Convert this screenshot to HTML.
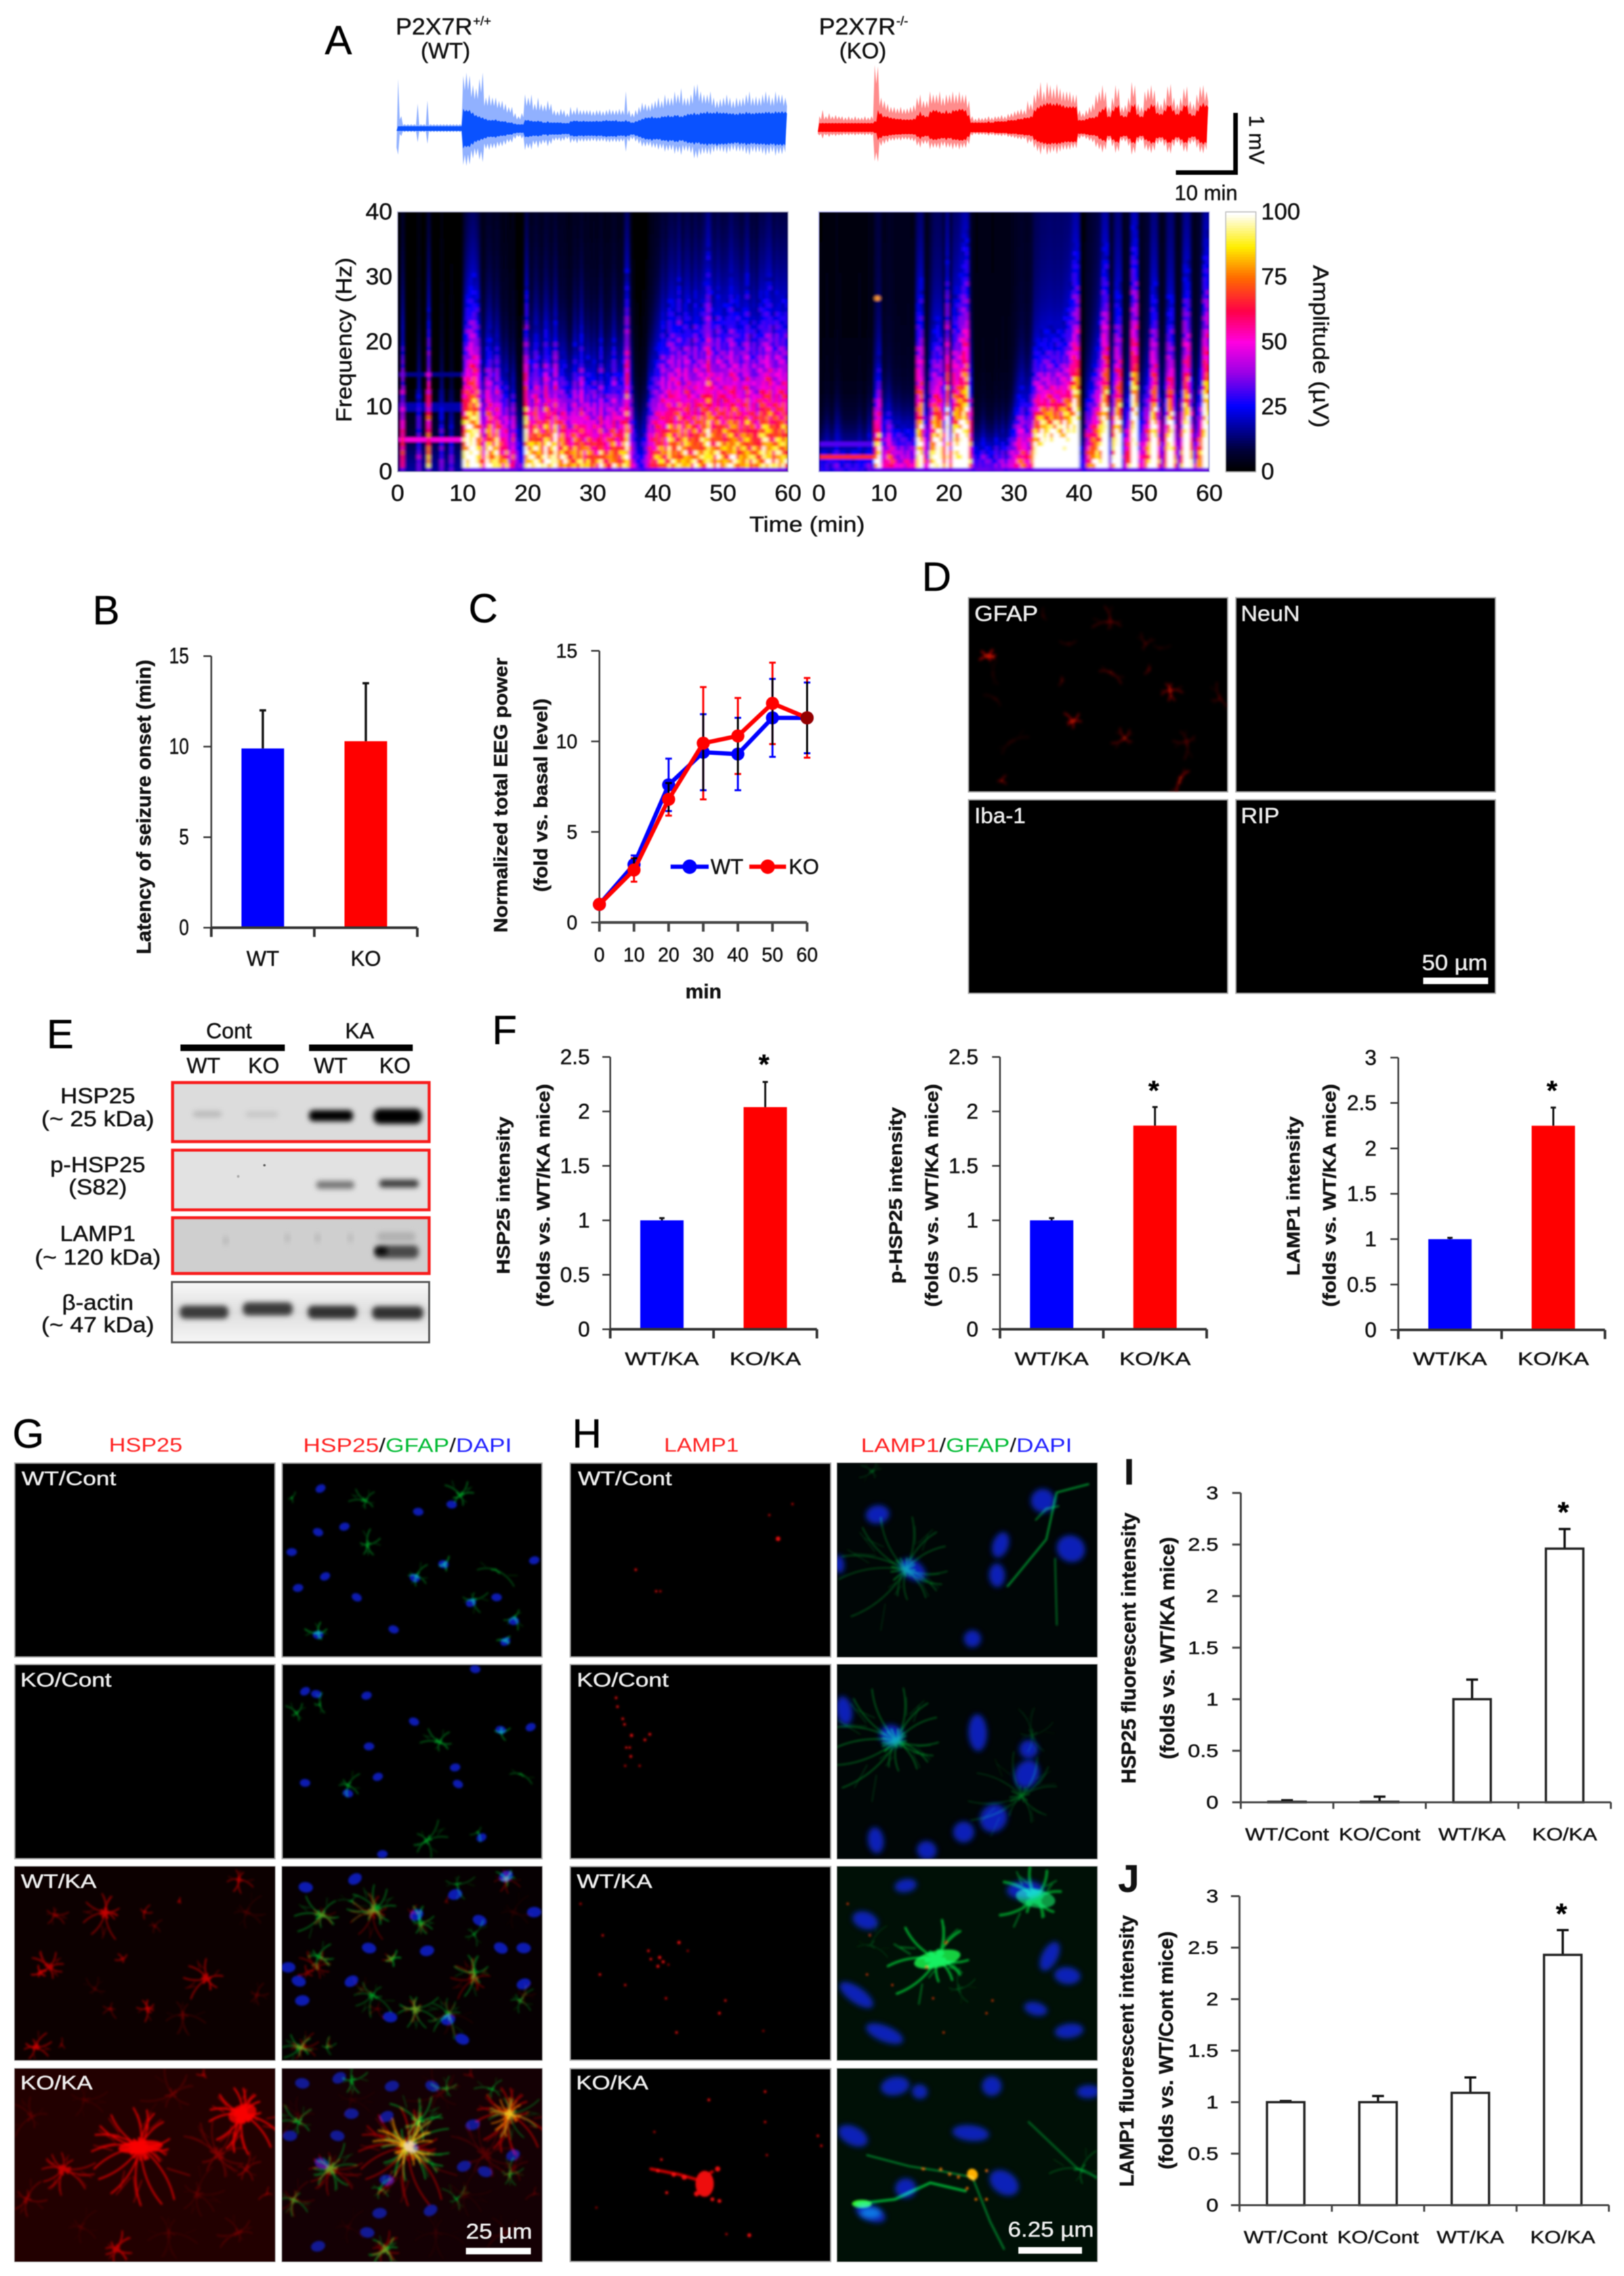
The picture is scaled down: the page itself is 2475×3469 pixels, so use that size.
<!DOCTYPE html>
<html lang="en">
<head>
<meta charset="utf-8">
<title>P2X7R multi-panel figure</title>
<style>
html,body{margin:0;padding:0;background:#fff;width:2475px;height:3469px;overflow:hidden}
svg{display:block;filter:blur(.8px)}
text{font-family:"Liberation Sans",sans-serif;dominant-baseline:central;fill:#111;stroke:#111;stroke-width:.5px}
.m{text-anchor:middle}.e{text-anchor:end}.s{text-anchor:start}
.b{font-weight:700}
.pl{font-size:62px;fill:#000}
.w{fill:#eee;stroke:#eee}
.c{stroke:none}
</style>
</head>
<body>
<svg id="fig" xmlns="http://www.w3.org/2000/svg" width="2475" height="3469" viewBox="0 0 2475 3469">
<defs>
<filter id="soft" x="-5%" y="-5%" width="110%" height="110%"><feGaussianBlur stdDeviation="1.5"/></filter>
<filter id="softD" x="-5%" y="-5%" width="110%" height="110%"><feGaussianBlur stdDeviation="2.4"/></filter>
<filter id="nuc" x="-40%" y="-40%" width="180%" height="180%"><feGaussianBlur stdDeviation="4"/></filter>
<filter id="spec" x="-2%" y="-2%" width="104%" height="104%"><feGaussianBlur stdDeviation="2.4 1.6"/></filter>
<filter id="blot" x="-30%" y="-120%" width="160%" height="340%"><feGaussianBlur stdDeviation="4"/></filter>
<clipPath id="clipWT"><rect x="606" y="323" width="595" height="396"/></clipPath>
<clipPath id="clipKO"><rect x="1248" y="323" width="595" height="396"/></clipPath>
<linearGradient id="actinBg" x1="0" y1="0" x2="0" y2="1"><stop offset="0" stop-color="#f8f8f8"/><stop offset=".5" stop-color="#dedede"/><stop offset="1" stop-color="#f6f6f6"/></linearGradient>
</defs>
<rect width="2475" height="3469" fill="#fff"/>

<!-- PANEL A -->
<g id="panelA">
<text class="pl" x="495" y="62">A</text>
<text x="603" y="41" font-size="35" textLength="117" lengthAdjust="spacingAndGlyphs">P2X7R</text>
<text x="721" y="33" font-size="19">+/+</text>
<text class="m" x="679" y="78" font-size="34">(WT)</text>
<text x="1248" y="41" font-size="35" textLength="117" lengthAdjust="spacingAndGlyphs">P2X7R</text>
<text x="1366" y="33" font-size="19">-/-</text>
<text class="m" x="1315" y="78" font-size="34">(KO)</text>
<g id="traceWT"></g>
<g id="traceKO"></g>
<path d="M1792 263H1883V172" fill="none" stroke="#000" stroke-width="7"/>
<text class="m" x="1915" y="213" font-size="32" transform="rotate(90 1915 213)">1 mV</text>
<text class="m" x="1838" y="294" font-size="32">10 min</text>
<g id="specFrame">
<rect x="606" y="323" width="595" height="396" fill="#000"/>
<rect x="1248" y="323" width="595" height="396" fill="#000"/>
</g>
<g clip-path="url(#clipWT)"><g id="specWT" filter="url(#spec)"></g></g>
<g clip-path="url(#clipKO)"><g id="specKO" filter="url(#spec)"></g></g>
<rect x="606" y="323" width="595" height="396" fill="none" stroke="#a8a8c8" stroke-width="1.5"/>
<rect x="1248" y="323" width="595" height="396" fill="none" stroke="#b0b0f0" stroke-width="1.5"/>
<g id="colorbar"></g>
<g id="specTicks"></g>
<text class="m" x="524" y="518" font-size="33" textLength="251" lengthAdjust="spacingAndGlyphs" transform="rotate(-90 524 518)">Frequency (Hz)</text>
<text class="m" x="1230" y="799" font-size="33" textLength="176" lengthAdjust="spacingAndGlyphs">Time (min)</text>
<text class="m" x="2013" y="528" font-size="33" textLength="248" lengthAdjust="spacingAndGlyphs" transform="rotate(90 2013 528)">Amplitude (µV)</text>
</g>

<!-- PANEL B -->
<g id="panelB">
<text class="pl" x="141" y="931">B</text>
<text class="m b" x="219" y="1230" font-size="31" textLength="449" lengthAdjust="spacingAndGlyphs" transform="rotate(-90 219 1230)">Latency of seizure onset (min)</text>
</g>

<!-- PANEL C -->
<g id="panelC">
<text class="pl" x="714" y="928">C</text>
<text class="m b" x="764" y="1212" font-size="29" textLength="419" lengthAdjust="spacingAndGlyphs" transform="rotate(-90 764 1212)">Normalized total EEG power</text>
<text class="m b" x="825" y="1212" font-size="29" textLength="295" lengthAdjust="spacingAndGlyphs" transform="rotate(-90 825 1212)">(fold vs. basal level)</text>
<text class="m b" x="1072" y="1511" font-size="31">min</text>
</g>

<!-- PANEL D -->
<g id="panelD">
<text class="pl" x="1405" y="880">D</text>
</g>

<!-- PANEL E -->
<g id="panelE">
<text class="pl" x="71" y="1577">E</text>
<rect x="275" y="1592" width="159" height="10" fill="#000"/>
<rect x="471" y="1592" width="158" height="10" fill="#000"/>
<text class="m" x="349" y="1571" font-size="33">Cont</text>
<text class="m" x="548" y="1571" font-size="33">KA</text>
<text class="m" x="310" y="1624" font-size="33">WT</text>
<text class="m" x="402" y="1624" font-size="33">KO</text>
<text class="m" x="504" y="1624" font-size="33">WT</text>
<text class="m" x="602" y="1624" font-size="33">KO</text>
<rect x="263" y="1650" width="391" height="90" fill="#dcdcdc" stroke="#f81c1c" stroke-width="4.5"/>
<rect x="263" y="1753" width="391" height="91" fill="#e2e2e2" stroke="#f81c1c" stroke-width="4.5"/>
<rect x="263" y="1856" width="391" height="85" fill="#cfcfcf" stroke="#f81c1c" stroke-width="4.5"/>
<rect x="262" y="1954" width="392" height="92" fill="url(#actinBg)" stroke="#555" stroke-width="3"/>
<rect x="294" y="1693" width="44" height="10" rx="5" fill="#bbb" filter="url(#blot)"/>
<rect x="374" y="1694" width="50" height="9" rx="5" fill="#c6c6c6" filter="url(#blot)"/>
<rect x="471" y="1692" width="67" height="17" rx="7" fill="#000" filter="url(#blot)"/>
<rect x="569" y="1690" width="74" height="23" rx="10" fill="#000" filter="url(#blot)"/>
<rect x="482" y="1800" width="58" height="12" rx="5" fill="#777" filter="url(#blot)"/>
<rect x="578" y="1798" width="60" height="12" rx="5" fill="#3c3c3c" filter="url(#blot)"/>
<rect x="571" y="1898" width="67" height="20" rx="8" fill="#4a4a4a" filter="url(#blot)"/>
<rect x="572" y="1902" width="18" height="10" rx="4" fill="#000" filter="url(#blot)"/>
<rect x="575" y="1878" width="58" height="14" rx="6" fill="#b0b0b0" filter="url(#blot)"/>
<rect x="340" y="1884" width="8" height="14" rx="4" fill="#b8b8b8" filter="url(#blot)"/>
<rect x="434" y="1880" width="8" height="14" rx="4" fill="#bababa" filter="url(#blot)"/>
<rect x="480" y="1880" width="8" height="14" rx="4" fill="#b8b8b8" filter="url(#blot)"/>
<rect x="530" y="1880" width="8" height="14" rx="4" fill="#bababa" filter="url(#blot)"/>
<rect x="274" y="1990" width="74" height="20" rx="8" fill="#3a3a3a" filter="url(#blot)"/>
<rect x="370" y="1985" width="76" height="20" rx="8" fill="#3a3a3a" filter="url(#blot)"/>
<rect x="469" y="1990" width="75" height="20" rx="8" fill="#333" filter="url(#blot)"/>
<rect x="567" y="1991" width="78" height="20" rx="8" fill="#333" filter="url(#blot)"/>
<circle cx="403" cy="1776" r="1.8" fill="#555"/>
<circle cx="363" cy="1793" r="2" fill="#aaa"/>
<text class="m" x="149" y="1670" font-size="33" textLength="114" lengthAdjust="spacingAndGlyphs">HSP25</text>
<text class="m" x="149" y="1705" font-size="33" textLength="172" lengthAdjust="spacingAndGlyphs">(~ 25 kDa)</text>
<text class="m" x="149" y="1775" font-size="33" textLength="145" lengthAdjust="spacingAndGlyphs">p-HSP25</text>
<text class="m" x="149" y="1809" font-size="33" textLength="89" lengthAdjust="spacingAndGlyphs">(S82)</text>
<text class="m" x="149" y="1880" font-size="33" textLength="115" lengthAdjust="spacingAndGlyphs">LAMP1</text>
<text class="m" x="149" y="1916" font-size="33" textLength="192" lengthAdjust="spacingAndGlyphs">(~ 120 kDa)</text>
<text class="m" x="149" y="1985" font-size="33" textLength="109" lengthAdjust="spacingAndGlyphs">β-actin</text>
<text class="m" x="149" y="2019" font-size="33" textLength="172" lengthAdjust="spacingAndGlyphs">(~ 47 kDa)</text>
</g>

<!-- PANEL F -->
<g id="panelF">
<text class="pl" x="750" y="1571">F</text>
<text class="m b" x="767" y="1822" font-size="28" textLength="240" lengthAdjust="spacingAndGlyphs" transform="rotate(-90 767 1822)">HSP25 intensity</text>
<text class="m b" x="828" y="1822" font-size="28" textLength="340" lengthAdjust="spacingAndGlyphs" transform="rotate(-90 828 1822)">(folds vs. WT/KA mice)</text>
<text class="m b" x="1365" y="1822" font-size="28" textLength="269" lengthAdjust="spacingAndGlyphs" transform="rotate(-90 1365 1822)">p-HSP25 intensity</text>
<text class="m b" x="1420" y="1822" font-size="28" textLength="340" lengthAdjust="spacingAndGlyphs" transform="rotate(-90 1420 1822)">(folds vs. WT/KA mice)</text>
<text class="m b" x="1971" y="1823" font-size="28" textLength="243" lengthAdjust="spacingAndGlyphs" transform="rotate(-90 1971 1823)">LAMP1 intensity</text>
<text class="m b" x="2026" y="1822" font-size="28" textLength="340" lengthAdjust="spacingAndGlyphs" transform="rotate(-90 2026 1822)">(folds vs. WT/KA mice)</text>
</g>

<!-- PANELS G H D images -->
<g id="micrographs"></g>

<g id="panelGH">
<text class="pl" x="19" y="2186">G</text>
<text class="pl" x="872" y="2186">H</text>
<text class="m c" x="222" y="2203" font-size="30" textLength="112" lengthAdjust="spacingAndGlyphs" style="fill:#f22">HSP25</text>
<text class="c" x="462" y="2203" font-size="30" textLength="318" lengthAdjust="spacingAndGlyphs"><tspan style="fill:#f22">HSP25</tspan><tspan>/</tspan><tspan style="fill:#0b3">GFAP</tspan><tspan>/</tspan><tspan style="fill:#22f">DAPI</tspan></text>
<text class="m c" x="1069" y="2203" font-size="30" textLength="114" lengthAdjust="spacingAndGlyphs" style="fill:#f22">LAMP1</text>
<text class="c" x="1312" y="2203" font-size="30" textLength="322" lengthAdjust="spacingAndGlyphs"><tspan style="fill:#f22">LAMP1</tspan><tspan>/</tspan><tspan style="fill:#0b3">GFAP</tspan><tspan>/</tspan><tspan style="fill:#22f">DAPI</tspan></text>
<text class="w" x="33" y="2254" font-size="30" textLength="144" lengthAdjust="spacingAndGlyphs">WT/Cont</text>
<text class="w" x="31" y="2561" font-size="30" textLength="139" lengthAdjust="spacingAndGlyphs">KO/Cont</text>
<text class="w" x="32" y="2868" font-size="30" textLength="115" lengthAdjust="spacingAndGlyphs">WT/KA</text>
<text class="w" x="31" y="3175" font-size="30" textLength="110" lengthAdjust="spacingAndGlyphs">KO/KA</text>
<text class="w" x="881" y="2254" font-size="30" textLength="143" lengthAdjust="spacingAndGlyphs">WT/Cont</text>
<text class="w" x="879" y="2561" font-size="30" textLength="140" lengthAdjust="spacingAndGlyphs">KO/Cont</text>
<text class="w" x="879" y="2868" font-size="30" textLength="115" lengthAdjust="spacingAndGlyphs">WT/KA</text>
<text class="w" x="878" y="3175" font-size="30" textLength="110" lengthAdjust="spacingAndGlyphs">KO/KA</text>
<text class="w" x="710" y="3401" font-size="32" textLength="101" lengthAdjust="spacingAndGlyphs">25 µm</text>
<rect x="710" y="3426" width="99" height="10" fill="#fff"/>
<text class="w" x="1536" y="3398" font-size="32" textLength="131" lengthAdjust="spacingAndGlyphs">6.25 µm</text>
<rect x="1552" y="3425" width="97" height="10" fill="#fff"/>
<text class="w" x="1485" y="935" font-size="33" textLength="97" lengthAdjust="spacingAndGlyphs">GFAP</text>
<text class="w" x="1891" y="935" font-size="33" textLength="90" lengthAdjust="spacingAndGlyphs">NeuN</text>
<text class="w" x="1485" y="1243" font-size="33" textLength="78" lengthAdjust="spacingAndGlyphs">Iba-1</text>
<text class="w" x="1891" y="1243" font-size="33" textLength="59" lengthAdjust="spacingAndGlyphs">RIP</text>
<text class="w" x="2167" y="1467" font-size="33" textLength="100" lengthAdjust="spacingAndGlyphs">50 µm</text>
<rect x="2169" y="1490" width="99" height="10" fill="#fff"/>
</g>

<!-- PANELS I J -->
<g id="panelIJ">
<text class="b" x="1713" y="2243" font-size="56">I</text>
<text class="b" x="1704" y="2864" font-size="58">J</text>
<text class="m" x="1720" y="2512" font-size="31" textLength="413" lengthAdjust="spacingAndGlyphs" transform="rotate(-90 1720 2512)" style="font-weight:700">HSP25 fluorescent intensity</text>
<text class="m" x="1779" y="2512" font-size="31" textLength="339" lengthAdjust="spacingAndGlyphs" transform="rotate(-90 1779 2512)" style="font-weight:700">(folds vs. WT/KA mice)</text>
<text class="m" x="1717" y="3126" font-size="31" textLength="414" lengthAdjust="spacingAndGlyphs" transform="rotate(-90 1717 3126)" style="font-weight:700">LAMP1 fluorescent intensity</text>
<text class="m" x="1777" y="3125" font-size="31" textLength="363" lengthAdjust="spacingAndGlyphs" transform="rotate(-90 1777 3125)" style="font-weight:700">(folds vs. WT/Cont mice)</text>
</g>

<g id="charts"></g>
</svg>

<script>
/* ---------- Panel A data: values per 0.5-minute bin (120 bins) ---------- */
const wtTraceBody=[.04,.04,.04,.04,.04,.04,.04,.04,.04,.04,.04,.04,.04,.04,.04,.04,.04,.04,.04,.04,
.32,.3,.3,.26,.22,.2,.18,.16,.14,.14,.15,.13,.12,.12,.1,.1,.08,.07,.07,.14,
.14,.13,.12,.13,.12,.1,.12,.1,.1,.1,.1,.09,.09,.12,.13,.13,.12,.13,.12,.12,
.12,.13,.12,.13,.14,.13,.13,.14,.12,.12,.14,.12,.1,.12,.14,.16,.18,.18,.2,.18,
.18,.2,.2,.22,.2,.22,.22,.2,.22,.24,.24,.26,.24,.26,.26,.28,.26,.26,.28,.26,
.26,.26,.25,.25,.24,.26,.25,.27,.26,.25,.26,.26,.26,.27,.27,.26,.28,.27,.28,.27];
const wtTracePeak=[.8,.2,.07,.07,.07,.07,.4,.07,.07,.45,.07,.07,.07,.07,.07,.07,.07,.07,.07,.07,
.85,.9,.85,.7,.65,.8,.9,.5,.55,.5,.5,.45,.45,.4,.35,.35,.25,.2,.25,.55,
.5,.55,.4,.5,.4,.38,.45,.4,.3,.28,.32,.3,.25,.35,.3,.35,.3,.3,.3,.3,
.28,.3,.3,.28,.3,.32,.3,.3,.32,.3,.6,.3,.25,.3,.35,.42,.4,.38,.42,.45,
.5,.45,.55,.5,.5,.6,.55,.65,.5,.5,.55,.7,.72,.6,.55,.55,.6,.5,.45,.48,
.5,.55,.5,.45,.5,.48,.5,.55,.6,.5,.52,.5,.55,.6,.55,.5,.6,.55,.55,.5];
const koTraceBody=[.09,.09,.09,.09,.09,.09,.09,.09,.09,.09,.09,.09,.09,.09,.09,.09,.09,.12,.3,.25,
.2,.2,.18,.17,.16,.16,.15,.15,.15,.16,.22,.28,.22,.2,.28,.3,.3,.28,.26,.3,
.26,.3,.3,.32,.32,.3,.22,.1,.1,.1,.1,.1,.12,.1,.12,.12,.12,.12,.14,.14,
.14,.16,.16,.18,.18,.2,.3,.35,.38,.4,.42,.42,.4,.42,.4,.38,.36,.36,.36,.36,
.14,.14,.16,.18,.18,.2,.28,.32,.36,.2,.3,.36,.38,.22,.2,.28,.38,.4,.24,.2,
.3,.34,.4,.38,.26,.24,.3,.38,.38,.3,.24,.3,.38,.38,.25,.22,.3,.38,.42,.38];
const koTracePeak=[.2,.3,.2,.25,.2,.22,.2,.2,.18,.2,.18,.2,.18,.18,.2,.18,.2,1.02,1.0,.5,
.45,.4,.35,.35,.33,.35,.32,.33,.35,.38,.5,.55,.45,.45,.6,.55,.55,.6,.5,.55,
.55,.6,.55,.6,.55,.55,.45,.2,.16,.18,.17,.18,.2,.18,.2,.2,.22,.2,.24,.25,
.28,.3,.32,.3,.45,.4,.55,.65,.75,.6,.75,.7,.65,.72,.65,.6,.6,.6,.55,.55,
.3,.25,.3,.35,.4,.55,.6,.7,.6,.35,.5,.7,.65,.35,.38,.5,.75,.7,.4,.35,
.6,.65,.7,.62,.45,.4,.5,.68,.72,.5,.4,.5,.65,.68,.45,.4,.55,.68,.7,.6];
/* spectrogram amplitude at 0 Hz (uV) and roll-off frequency (Hz) per bin */
const wtSpecAmp=[24,95,26,24,24,24,60,24,24,120,24,24,24,55,24,24,50,24,24,24,
150,160,165,170,165,120,90,150,140,120,155,120,100,110,70,110,60,50,45,150,
130,140,150,130,120,160,145,130,165,120,140,130,110,120,120,115,125,110,115,110,
110,105,125,105,110,115,125,110,115,120,140,95,60,45,40,50,60,95,100,110,
110,115,105,130,120,115,125,110,135,120,110,125,115,130,120,150,125,115,130,120,
125,115,130,135,120,110,125,130,115,120,110,125,135,140,130,115,125,130,135,120];
const wtSpecRoll=[5,14,5,5,5,5,11,5,5,14,5,5,5,10,5,5,8,5,5,5,
11,13,14,14,13,10,8,10,11,9,10,9,8,9,7,8,6,6,6,14,
9,9,11,10,9,11,10,9,11,9,9,9,8,8,11,9,12,9,10,9,
10,8,11,8,9,9,11,9,9,10,16,10,7,7,6,7,7,9,10,11,
12,14,13,14,15,14,16,13,14,15,13,15,14,14,16,17,15,14,15,14,
14,15,16,14,15,14,14,16,13,14,13,15,14,15,16,14,15,14,14,15];
const koSpecAmp=[45,45,50,45,45,55,50,45,45,45,45,45,50,45,45,55,45,160,170,90,
95,120,110,90,80,85,85,90,80,85,170,175,100,70,150,190,195,190,120,210,
100,190,180,190,200,205,140,60,55,60,65,60,60,55,65,60,70,60,70,90,
95,110,110,100,100,125,200,210,230,230,240,240,230,240,230,230,220,210,230,230,
50,45,120,130,150,160,170,210,210,70,170,210,210,70,110,130,215,215,80,90,
130,150,215,215,130,60,130,210,215,120,60,140,215,220,150,70,120,150,220,225];
const koSpecRoll=[5,6,7,6,6,8,7,6,6,6,6,6,7,6,6,8,6,8,10,7,
7,7,6,6,7,6,6,6,6,6,15,16,9,8,11,12,12,12,10,16,
9,14,15,16,18,18,10,5,5,5,6,5,5,5,6,5,6,5,6,6,
8,9,10,9,9,10,10,10,10,10,10,10,10,10,10,11,12,14,16,16,
6,5,8,9,10,11,13,17,17,7,9,14,14,7,8,9,18,18,8,9,
9,10,14,14,9,6,9,13,13,9,6,9,15,15,9,6,8,10,16,17];
const specMottle=[1.06,.86,1.14,.95,.8,1.1,1.2,.9,1.0,.78,1.16,.92,1.08,.84,1.22,.96,.88,1.12,.82,1.04,1.18,.9,.98,1.1,.8,1.15,.94,1.05,.87];
const wtBaselineFreqs=[5,10,15];
const wtBaselineLevels=[50,18,15];
const koBaselineFreqs=[2.2,4.2];
const koBaselineLevels=[66,32];
const freqTicks=[0,10,20,30,40];
const timeTicks=[0,10,20,30,40,50,60];
const ampTicks=[0,25,50,75,100];
const cmapLevels=[0,8,25,38,50,62,75,87,100];
const cmapColors=["#000000","#000038","#0000ff","#9a00e6","#ff00e0","#ff0048","#ff6a00","#ffee00","#ffffff"];

/* ---------- Panel B ---------- */
const bCategories=["WT","KO"];
const bValues=[9.9,10.3];
const bErrors=[2.1,3.2];
const bTicks=[0,5,10,15];
/* ---------- Panel C ---------- */
const cMinutes=[0,10,20,30,40,50,60];
const cWT=[1,3.2,7.6,9.4,9.3,11.3,11.3];
const cKO=[1,2.9,6.8,9.9,10.3,12.1,11.3];
const cWTErr=[0,.5,1.45,2.1,2.0,2.15,1.95];
const cKOErr=[0,.65,.9,3.1,2.1,2.25,2.2];
const cTicks=[0,5,10,15];
/* ---------- Panel F ---------- */
const fCategories=["WT/KA","KO/KA"];
const f1Values=[1,2.04];
const f1Errors=[.02,.23];
const f1Ticks=[0,.5,1,1.5,2,2.5];
const f2Values=[1,1.87];
const f2Errors=[.02,.17];
const f2Ticks=[0,.5,1,1.5,2,2.5];
const f3Values=[1,2.25];
const f3Errors=[.015,.2];
const f3Ticks=[0,.5,1,1.5,2,2.5,3];
/* ---------- Panels I, J ---------- */
const ijCategories=["WT/Cont","KO/Cont","WT/KA","KO/KA"];
const iValues=[.005,.005,1,2.46];
const iErrors=[.015,.05,.19,.19];
const jValues=[1,1,1.09,2.43];
const jErrors=[.01,.06,.15,.24];
const ijTicks=[0,.5,1,1.5,2,2.5,3];

/* ---------- helpers ---------- */
const NS='http://www.w3.org/2000/svg';
function mk(parent,tag,attrs){
  const el=document.createElementNS(NS,tag);
  for(const k in attrs)el.setAttribute(k,attrs[k]);
  parent.appendChild(el);
  return el;
}
const $=id=>document.getElementById(id);
function hex(c){return [parseInt(c.substr(1,2),16),parseInt(c.substr(3,2),16),parseInt(c.substr(5,2),16)];}
function cmap(v){
  v=Math.max(0,Math.min(100,v));
  let i=0;
  while(i<cmapLevels.length-2&&v>cmapLevels[i+1])i++;
  const t=(v-cmapLevels[i])/(cmapLevels[i+1]-cmapLevels[i]);
  const a=hex(cmapColors[i]),b=hex(cmapColors[i+1]);
  return 'rgb('+Math.round(a[0]+(b[0]-a[0])*t)+','+Math.round(a[1]+(b[1]-a[1])*t)+','+Math.round(a[2]+(b[2]-a[2])*t)+')';
}
function label(parent,x,y,str,cls,size,stretch,name){
  const el=mk(parent,'text',{x:x,y:y,class:cls,'font-size':size});
  el.textContent=str;
  
  
  if(stretch&&stretch!==1){
    const n=el.getComputedTextLength();
    if(n>0){el.setAttribute('textLength',n*stretch);el.setAttribute('lengthAdjust','spacingAndGlyphs');}
  }
  return el;
}

/* ---------- EEG traces ---------- */
function drawTrace(g,x0,width,body,peak,color,downFactor,key){
  const cy=196,mv=95,bw=width/body.length;
  function outline(upper,lower,dip){
    let up='',dn='';
    upper.forEach((u,i)=>{
      const x=x0+(i+.15)*bw;
      const next=i+1<upper.length?upper[i+1]:u;
      const low=Math.min(u,next);
      up+=(i?'L':'M')+x.toFixed(1)+' '+(cy-u*mv).toFixed(1)+'L'+(x+bw*.5).toFixed(1)+' '+(cy-low*mv*dip).toFixed(1);
    });
    for(let i=lower.length-1;i>=0;i--){
      const x=x0+(i+.15)*bw;
      const prev=i>0?lower[i-1]:lower[i];
      const low=Math.min(lower[i],prev);
      dn+='L'+x.toFixed(1)+' '+(cy+lower[i]*mv).toFixed(1)+'L'+(x-bw*.5).toFixed(1)+' '+(cy+low*mv*dip).toFixed(1);
    }
    return up+dn+'Z';
  }
  const peakLow=peak.map((p,i)=>body[i]*downFactor+(p-body[i])*.5);
  const bodyLow=body.map(b=>b*downFactor);
  const pk=mk(g,'path',{d:outline(peak,peakLow,.72),fill:color,'fill-opacity':.45});
  
  
  const bd=mk(g,'path',{d:outline(body,bodyLow,.9),fill:color});
  
  
}
drawTrace($('traceWT'),606,595,wtTraceBody,wtTracePeak,'#0a52ff',1,'wt');
drawTrace($('traceKO'),1248,595,koTraceBody,koTracePeak,'#ff0000',.62,'ko');

/* ---------- spectrograms ---------- */
const SPEC_TOP=323,SPEC_H=396,SPEC_W=595,FREQ_MAX=40,ROWS=60;
function specAmp(A,F,f,floor){
  return A*(.75*Math.exp(-Math.pow(f/F,1.5))+.19*Math.exp(-f/(1.5*F))+floor);
}
function drawSpec(g,x0,amps,rolls,lineF,lineL,lineEnd,key,ampScale,rollScale,floor){
  const bw=SPEC_W/amps.length,rh=SPEC_H/ROWS;
  amps.forEach((A,i)=>{
    for(let j=0;j<ROWS;j++){
      const f=(j+.5)*FREQ_MAX/ROWS;
      let v=specAmp(A*ampScale,rolls[i]*rollScale,f,floor);
      if(v>20)v*=specMottle[(i*11+j*5)%specMottle.length];
      lineF.forEach((lf,k)=>{
        if(i<lineEnd&&Math.abs(f-lf)<.34)v=Math.max(v,lineL[k]);
      });
      if(j===0)v=Math.min(v,34);
      if(v<2)continue;
      const r=mk(g,'rect',{x:(x0+i*bw).toFixed(1),y:(SPEC_TOP+SPEC_H-(j+1)*rh).toFixed(1),width:(bw+.6).toFixed(1),height:(rh+.6).toFixed(1),fill:cmap(v)});
      
      
    }
  });
}
drawSpec($('specWT'),606,wtSpecAmp,wtSpecRoll,wtBaselineFreqs,wtBaselineLevels,20,'wt',.72,1.25,.03);
drawSpec($('specKO'),1248,koSpecAmp,koSpecRoll,koBaselineFreqs,koBaselineLevels,17,'ko',.62,1,.07);
const koSpot=mk($('specKO'),'circle',{cx:1248+SPEC_W*9/60,cy:SPEC_TOP+SPEC_H*(1-26.7/FREQ_MAX),r:4,fill:'#ff9a30'});



/* colour bar */
(function(){
  const g=$('colorbar');
  for(let i=0;i<99;i++){
    const r=mk(g,'rect',{x:1868,y:(SPEC_TOP+SPEC_H*(1-(i+1)/99)).toFixed(1),width:46,height:(SPEC_H/99+.8).toFixed(1),fill:cmap(i*100/98)});
    
    
  }
  const f=mk(g,'rect',{x:1868,y:SPEC_TOP,width:46,height:SPEC_H,fill:'none',stroke:'#bbb','stroke-width':1.5});
  
  
  ampTicks.forEach(v=>label(g,1922,SPEC_TOP+SPEC_H*(1-v/100),String(v),'s',35,1.02,'colorbar-tick-label'));
})();
/* spectrogram ticks */
(function(){
  const g=$('specTicks');
  freqTicks.forEach(v=>label(g,598,SPEC_TOP+SPEC_H*(1-v/FREQ_MAX),String(v),'e',35,1.05,'frequency-tick-label'));
  [606,1248].forEach(x0=>timeTicks.forEach(v=>label(g,x0+SPEC_W*v/60,752,String(v),'m',35,1.05,'time-tick-label')));
})();

/* ---------- bar charts ---------- */
function barChart(c,cats,vals,errs,ticks,colors){
  const g=mk($('charts'),'g',{});
  
  
  const Y=v=>c.y0-(v/c.vmax)*(c.y0-c.yTop);
  const bw=(c.x1-c.x0)/cats.length;
  vals.forEach((v,i)=>{
    const cx=c.x0+(i+.5)*bw;
    if(errs[i]>0){
      const e=mk(g,'path',{d:'M'+cx+' '+Y(v)+'V'+Y(v+errs[i])+'M'+(cx-c.cap)+' '+Y(v+errs[i])+'H'+(cx+c.cap),stroke:'#111','stroke-width':c.ew,fill:'none'});
      
      
    }
    const r=mk(g,'rect',{x:cx-c.bar/2,y:Y(v),width:c.bar,height:Math.max(0,c.y0-Y(v)),fill:colors?colors[i]:'#fff'});
    if(!colors){r.setAttribute('stroke','#222');r.setAttribute('stroke-width',3.5);}
    
    
    label(g,cx+(c.catDx||0),c.catY,cats[i],'m'+(c.catBold?' b':''),c.catSize,c.catStretch,c.name+'-category-label');
  });
  let dAxis='M'+c.x0+' '+c.yTop+'V'+c.y0;
  ticks.forEach(t=>{
    dAxis+='M'+(c.x0-c.tick)+' '+Y(t)+'H'+c.x0;
    label(g,c.labelX,Y(t),String(t),'e',c.tickSize,c.tickStretch,c.name+'-tick-label');
  });
  const a=mk(g,'path',{d:dAxis,stroke:c.axis,'stroke-width':c.axisW,fill:'none'});
  
  
  let dX='M'+c.x0+' '+c.y0+'H'+c.x1;
  cats.forEach((_,i)=>{dX+='M'+(c.x0+i*bw)+' '+c.y0+'V'+(c.y0+c.xtick);});
  dX+='M'+c.x1+' '+c.y0+'V'+(c.y0+c.xtick);
  const x=mk(g,'path',{d:dX,stroke:c.axis,'stroke-width':c.xAxisW||c.axisW,fill:'none'});
  
  
  if(c.starI!==undefined){
    const cx=c.x0+(c.starI+.5)*bw;
    const s=label(g,cx-2,c.starY+9,'*','m b',c.starSize,1,c.name+'-significance-star');
    s.setAttribute('style','fill:#000');
  }
}
const BLUE='#0000ff',RED='#ff0000';
const fShared={vmax:2.5,cap:4,ew:3,tick:12,xtick:14,axis:'#333',axisW:2.5,xAxisW:4,tickSize:32,tickStretch:1.02,catY:2071,catSize:28,catBold:false,catStretch:1.27,bar:66,starI:1,starSize:42};
barChart({name:'latency-chart',x0:322,x1:636,y0:1414,yTop:1000,vmax:15,bar:65,cap:5,ew:3.5,tick:12,xtick:14,axis:'#333',axisW:2.5,xAxisW:4,labelX:288,tickSize:34,tickStretch:.8,catY:1461,catSize:32,catStretch:1},bCategories,bValues,bErrors,bTicks,[BLUE,RED]);
barChart(Object.assign({},fShared,{name:'hsp25-intensity-chart',x0:930,x1:1245,y0:2026,yTop:1611,labelX:899,starY:1613}),fCategories,f1Values,f1Errors,f1Ticks,[BLUE,RED]);
barChart(Object.assign({},fShared,{name:'p-hsp25-intensity-chart',x0:1524,x1:1839,y0:2026,yTop:1611,labelX:1491,starY:1653}),fCategories,f2Values,f2Errors,f2Ticks,[BLUE,RED]);
barChart(Object.assign({},fShared,{name:'lamp1-intensity-chart',x0:2131,x1:2446,y0:2027,yTop:1612,vmax:3,labelX:2098,starY:1653}),fCategories,f3Values,f3Errors,f3Ticks,[BLUE,RED]);
const ijShared={vmax:3,bar:57,cap:9,ew:3.5,tick:13,xtick:10,axis:'#444',axisW:3,labelX:1857,tickSize:28,tickStretch:1.2,catSize:27,catStretch:1.2,starI:3,starSize:44};
barChart(Object.assign({},ijShared,{name:'hsp25-fluorescence-chart',x0:1891,x1:2455,y0:2747,yTop:2275.5,catY:2796,starY:2296}),ijCategories,iValues,iErrors,ijTicks,null);
barChart(Object.assign({},ijShared,{name:'lamp1-fluorescence-chart',x0:1889,x1:2452,y0:3361,yTop:2890,catY:3410,starY:2908}),ijCategories,jValues,jErrors,ijTicks,null);

/* ---------- line chart (panel C) ---------- */
(function(){
  const g=mk($('charts'),'g',{});
  
  
  const X=t=>913.5+t/60*316.5,Y=v=>1406-v*27.6;
  let ax='M913.5 992V1406';
  cTicks.forEach(t=>{
    ax+='M901 '+Y(t)+'H913.5';
    label(g,880,Y(t),String(t),'e',31,.95,'eeg-power-y-tick-label');
  });
  const a=mk(g,'path',{d:ax,stroke:'#333','stroke-width':2.5,fill:'none'});
  
  
  let bx='M913.5 1406H1230';
  cMinutes.forEach(t=>{
    bx+='M'+X(t)+' 1406V1420';
    label(g,X(t),1455,String(t),'m',31,.95,'eeg-power-x-tick-label');
  });
  const b=mk(g,'path',{d:bx,stroke:'#444','stroke-width':4,fill:'none'});
  
  
  function series(vals,errs,color,key){
    let e='',l='';
    vals.forEach((v,i)=>{
      const x=X(cMinutes[i]);
      if(errs[i]>0){
        e+='M'+x+' '+Y(v-errs[i])+'V'+Y(v+errs[i])+'M'+(x-5)+' '+Y(v+errs[i])+'H'+(x+5)+'M'+(x-5)+' '+Y(v-errs[i])+'H'+(x+5);
      }
      l+=(i?'L':'M')+x+' '+Y(v);
    });
    const ep=mk(g,'path',{d:e,stroke:color,'stroke-width':3,fill:'none',style:'mix-blend-mode:multiply'});
    
    
    const lp=mk(g,'path',{d:l,stroke:color,'stroke-width':6.5,fill:'none','stroke-linejoin':'round'});
    
    
    vals.forEach((v,i)=>{
      const c=mk(g,'circle',{cx:X(cMinutes[i]),cy:Y(v),r:10,fill:color});
      
      
    });
  }
  series(cWT,cWTErr,BLUE,'wt');
  series(cKO,cKOErr,RED,'ko');
  const dark=mk(g,'circle',{cx:X(60),cy:Y(cKO[6]),r:10,fill:'#700000',opacity:.75});
  
  
  /* legend */
  [[1022,1080,1051,BLUE,'WT',1083,'wt'],[1142,1198,1170,RED,'KO',1202,'ko']].forEach(k=>{
    const ln=mk(g,'path',{d:'M'+k[0]+' 1321H'+k[1],stroke:k[3],'stroke-width':6.5});
    
    
    const cc=mk(g,'circle',{cx:k[2],cy:1321,r:11,fill:k[3]});
    
    
    label(g,k[5],1321,k[4],'s',32,1,k[6]+'-legend-label');
  });
})();

/* ---------- micrographs ---------- */
const mRoot=$('micrographs');
let clipN=0;
function panel(x,y,w,h,name,haze,filterId){
  const outer=mk(mRoot,'g',{});
  
  
  const bg=mk(outer,'rect',{x:x,y:y,width:w,height:h,fill:'#000',stroke:'#aaa','stroke-width':2});
  
  
  const cp=mk(mk(mRoot.ownerSVGElement,'defs',{}),'clipPath',{id:'pc'+(++clipN)});
  mk(cp,'rect',{x:x,y:y,width:w,height:h});
  const clipped=mk(outer,'g',{'clip-path':'url(#pc'+clipN+')'});
  
  
  if(haze){
    const hz=mk(clipped,'rect',{x:x,y:y,width:w,height:h,fill:haze});
    
    
  }
  const g=mk(clipped,'g',{filter:'url(#'+(filterId||'soft')+')'});
  
  
  return g;
}
function frac(v){return v-Math.floor(v);}
function star(g,x,y,R,n,color,w0,op,seed){
  const w=w0*.7;
  const s=mk(g,'g',{opacity:op,style:'mix-blend-mode:screen'});
  
  
  let d='',side='',core='';
  for(let i=0;i<n;i++){
    const a=seed+i*2.39996;
    const L=R*(.35+.65*frac(i*.618+seed*.37));
    const bend=(i%2?1:-1)*.32;
    const cx=x+Math.cos(a+bend)*L*.55,cy=y+Math.sin(a+bend)*L*.55;
    const ex=x+Math.cos(a)*L,ey=y+Math.sin(a)*L;
    d+='M'+x.toFixed(1)+' '+y.toFixed(1)+'Q'+cx.toFixed(1)+' '+cy.toFixed(1)+' '+ex.toFixed(1)+' '+ey.toFixed(1);
    if(R>20){
      const sa=a+(i%2?.7:-.7);
      side+='M'+cx.toFixed(1)+' '+cy.toFixed(1)+'L'+(cx+Math.cos(sa)*L*.38).toFixed(1)+' '+(cy+Math.sin(sa)*L*.38).toFixed(1);
    }
    core+='M'+x.toFixed(1)+' '+y.toFixed(1)+'L'+(x+Math.cos(a)*L*.22).toFixed(1)+' '+(y+Math.sin(a)*L*.22).toFixed(1);
  }
  mk(s,'path',{d:d,stroke:color,'stroke-width':w,fill:'none','stroke-linecap':'round'});
  if(side)mk(s,'path',{d:side,stroke:color,'stroke-width':w*.6,fill:'none','stroke-linecap':'round','opacity':.7});
  mk(s,'path',{d:core,stroke:color,'stroke-width':w*1.6,fill:'none','stroke-linecap':'round'});
  mk(s,'circle',{cx:x,cy:y,r:Math.max(1.6,w*1.2),fill:color});
}
function nucleus(g,x,y,rx,ry,rot,color,op,heavy){
  const e=mk(g,'ellipse',{cx:x,cy:y,rx:rx,ry:ry,fill:color,opacity:op,transform:'rotate('+rot+' '+x+' '+y+')',style:'mix-blend-mode:screen'});
  if(heavy)e.setAttribute('filter','url(#nuc)');
  
  
}
function dot(g,x,y,r,color){
  const e=mk(g,'circle',{cx:x,cy:y,r:r,fill:color});
  
  
}
function fibre(g,d,color,w,op){
  const e=mk(g,'path',{d:d,stroke:color,'stroke-width':w,opacity:op,fill:'none','stroke-linecap':'round','stroke-linejoin':'round',style:'mix-blend-mode:screen'});
  
  
}
const mapG=(x,y)=>[x/1.867,2140+y/1.188];
const mapH=(x,y)=>[850+x/1.867,2140+y/1.188];
const mapD=(x,y)=>[1460+x/1.889,890+y/2.45];
function pathOf(map,pts){return pts.map((p,i)=>{const q=map(p[0],p[1]);return (i?'L':'M')+q[0].toFixed(1)+' '+q[1].toFixed(1);}).join('');}

/* Panel D */
const gfapCells=[[90,270,18,6,3.5,.9],[610,395,22,6,2.2,.75],[330,513,18,6,2.5,.85],[480,578,24,4,2,.7],[640,725,42,2,3.2,.65],[125,735,12,3,2.2,.65],[440,140,32,4,2.2,.45],[660,590,32,4,2,.4],[755,430,26,3,2,.4],[540,225,22,3,2,.35],[440,330,24,2,2.8,.4],[300,360,14,2,2.8,.35],[320,225,16,2,2.4,.25],[245,120,20,2,2,.28],[150,590,32,2,2,.22],[110,430,20,2,2,.25],[550,320,10,2,2.8,.4],[580,240,18,2,1.8,.22],[100,340,26,2,1.8,.18]];
(function(){
  const g1=panel(1476,911,395,296,'gfap-micrograph',null,'softD');
  gfapCells.forEach((c,i)=>{const p=mapD(c[0],c[1]);star(g1,p[0],p[1],c[2],c[3],'#e81000',c[4],c[5],i*1.3+.4);});
  panel(1883.5,911,395.5,296,'neun-micrograph');
  panel(1476,1219,395,295,'iba1-micrograph');
  panel(1883.5,1219,395.5,295,'rip-micrograph');
})();

/* Panel G */
const gRows=[[2230,295.5,'wt-cont'],[2537,296,'ko-cont'],[2845,295,'wt-ka'],[3153,294,'ko-ka']];
const gRed3=[[300,920,45,9,2.2,.85],[680,860,25,6,2,.75],[155,925,22,5,2,.6],[410,920,14,4,2,.7],[440,945,16,5,1.5,.45],[510,900,6,3,2,.8],[140,1020,30,7,2.6,.75],[115,1030,14,5,3,.85],[590,1040,40,7,2.6,.8],[350,1005,14,4,3,.6],[420,1095,22,7,2.2,.8],[315,1095,18,5,1.5,.6],[520,1105,40,6,1.3,.45],[100,1165,28,7,2.2,.85],[730,1070,22,5,1.5,.4],[700,920,40,6,1.2,.3],[175,1160,12,3,2,.55],[270,1060,25,4,1.3,.35]];
const gRed4=[[400,1345,95,18,3.5,.95],[690,1285,70,14,4,.95],[180,1385,50,11,2.4,.8],[75,1440,35,6,2,.55],[330,1530,30,8,3,.75],[700,1385,30,6,2,.55],[620,1360,60,10,2,.5],[490,1250,50,6,1.5,.4],[90,1290,40,5,1.5,.35],[680,1500,40,6,1.5,.4],[580,1215,14,3,3,.6],[760,1430,20,3,2,.55],[480,1500,50,6,1,.3],[240,1260,40,5,1,.3],[560,1430,50,7,1.2,.35],[230,1490,40,5,1,.3]];
const gMergeNuclei=[
 [[912,153],[1190,195],[980,222],[905,232],[830,268],[925,312],[1262,290],[848,333],[1015,350],[1413,350],[1340,360],[1120,408],[1462,393],[1438,430],[1285,182],[1520,283],[1180,315],[905,418]],
 [[868,520],[900,525],[1043,528],[1178,575],[1050,620],[1510,585],[1425,590],[1295,658],[1303,688],[868,686],[1075,675],[990,705],[1088,815],[1370,785],[1352,480]],
 [[1010,860],[870,875],[1295,888],[1365,935],[1520,920],[1440,855],[1050,985],[1215,990],[1425,985],[1490,985],[1490,1050],[850,1045],[860,1080],[1000,1045],[1110,1110],[1275,1115],[1315,1150],[820,1020],[1185,925]],
 [[965,1220],[860,1230],[1115,1235],[1230,1235],[1000,1285],[1100,1290],[960,1325],[1345,1305],[915,1375],[1100,1405],[1320,1380],[1380,1390],[1080,1465],[1225,1460],[1045,1500],[905,1525],[1170,1345],[825,1325],[1460,1360]]];
const gMergeGreen=[
 [[1040,175,28,5,1.6],[1310,165,30,6,2],[1045,255,28,5,2],[1185,310,26,4,1.8],[1265,290,14,3,2.5],[1345,355,26,4,1.6],[1410,300,40,2,1.4],[1465,385,22,3,1.8],[905,415,26,4,2.4],[1438,428,14,3,2.4],[830,170,14,3,1.4]],
 [[1250,612,32,6,1.8],[845,560,22,4,1.8],[910,545,22,3,1.6],[990,690,28,5,1.6],[1215,790,36,6,1.6],[1425,595,16,4,2],[1482,670,24,2,1.4],[1360,775,16,3,1.2]],
 [[915,925,45,7,2],[1070,915,45,9,2],[1195,940,30,7,2],[905,1000,30,6,2],[1115,1005,15,5,3],[1180,1095,40,8,1.8],[1060,1070,40,7,1.5],[1275,1105,40,7,1.4],[1350,1030,40,6,2],[855,1165,30,7,2],[1440,860,20,5,2],[930,1165,20,4,1.5],[1480,1080,30,5,1.3],[1350,960,25,4,1.2],[1300,870,30,4,1.2],[1000,900,30,3,1]],
 [[850,1300,40,5,2],[1190,1300,55,6,2.4],[1000,1225,35,5,2],[1160,1345,80,14,2.6],[940,1385,45,9,2],[1450,1285,50,8,1.6],[835,1440,30,4,1.8],[1100,1530,35,6,2.4],[1270,1240,30,4,1.6],[1400,1240,30,4,1.6],[1300,1440,30,4,1.3],[1450,1395,30,5,1.5],[1080,1420,25,4,1.6]]];
(function(){
  gRows.forEach((r,ri)=>{
    const redG=panel(22.5,r[0],396.5,r[1],'g-hsp25-'+r[2],ri===3?'#220000':(ri===2?'#0c0000':null));
    const list=ri===2?gRed3:(ri===3?gRed4:[]);
    list.forEach((c,i)=>{const p=mapG(c[0],c[1]);star(redG,p[0],p[1],c[2],c[3],'#e80000',c[4],c[5],i*1.7+.3);});
    if(ri===3){
      const a=mapG(400,1345),b=mapG(690,1285);
      nucleus(redG,a[0],a[1],34,10,-5,'#ee0000',.9,false);
      nucleus(redG,b[0],b[1],22,14,-20,'#ee0000',.85,false);
    }
    const mg=panel(430,r[0],396,r[1],'g-merge-'+r[2],ri===3?'#140004':(ri===2?'#060002':null));
    list.forEach((c,i)=>{const p=mapG(c[0]+760,c[1]);star(mg,p[0],p[1],c[2],c[3],'#c80000',c[4],c[5]*.7,i*1.7+.3);});
    gMergeNuclei[ri].forEach((n,i)=>{const p=mapG(n[0],n[1]);nucleus(mg,p[0],p[1],ri<2?8:11,ri<2?6:8,i*37%60-30,'#0a20d0',ri===3?.7:.85,false);});
    gMergeGreen[ri].forEach((c,i)=>{const p=mapG(c[0],c[1]);star(mg,p[0],p[1],c[2],c[3],'#00b428',c[4],.85,i*2.1+.7);});
    if(ri===3){const p=mapG(400+760,1345);star(mg,p[0],p[1],55,12,'#ff9c00',3,.85,.9);const q=mapG(690+760,1285);star(mg,q[0],q[1],36,9,'#ff8000',2.6,.85,2.3);}
  });
})();

/* Panel H */
const hRedDots=[
 [[627,244,3.5],[668,181,1.6],[602,201,1.6],[222,300,2],[280,339,1.8],[292,339,1.6]],
 [[166,532,2],[170,548,2],[185,570,2],[190,580,2],[210,600,2.5],[262,598,2.2],[248,608,2.2],[195,622,1.8],[205,622,1.8],[208,638,2.2],[192,655,1.6],[233,655,1.6]],
 [[65,905,1.6],[128,962,1.8],[345,975,2.6],[258,990,2],[265,1005,2],[290,1002,2.6],[300,1010,2.4],[285,1018,2.4],[120,1033,2],[192,1052,1.8],[308,1076,1.8],[460,1103,2.2],[477,1080,1.8],[338,1138,2],[585,1135,1.4],[315,1015,1.4],[370,990,1.4]],
 [[430,1260,2.2],[590,1245,2],[590,1300,1.8],[595,1360,1.6],[545,1505,3],[460,1443,3],[310,1428,2.4],[295,1368,2],[275,1318,1.6],[740,1325,1.8],[750,1343,1.8],[110,1455,1.4],[480,1503,1.6],[330,1395,3.5],[360,1400,4],[285,1388,3],[395,1430,4],[440,1440,3],[455,1385,4]]];
const hMergeNuclei=[
 [[910,200,18,14],[1260,255,12,20],[1250,310,12,18],[1460,262,22,20],[1180,425,13,13],[1010,300,22,14],[1380,175,18,18],[800,290,8,14]],
 [[815,555,12,22],[950,600,18,16],[1195,595,14,28],[1335,670,18,22],[1340,625,14,14],[1240,750,20,22],[1155,775,16,16],[905,790,12,20],[1050,808,15,14]],
 [[990,872,17,10],[875,935,20,13],[1330,880,28,14],[1400,1000,12,24],[1450,1035,20,13],[850,1070,30,12],[1360,1095,18,10],[1455,1135,22,11],[930,1140,30,12]],
 [[960,1235,22,14],[1235,1235,15,15],[1510,1245,18,10],[840,1325,24,14],[1175,1320,28,12],[1270,1410,24,17],[1030,1245,12,11],[990,1420,16,15],[890,1465,24,12]]];
const hMergeStars=[
 [[990,300,115,14,1.5,.8],[895,122,22,5,1,.6]],
 [[965,610,115,15,1.8,.85],[1320,710,85,10,1.2,.65],[1350,600,50,6,1,.45]],
 [[1080,1005,85,9,5,.95],[1360,895,60,8,6,.8],[1140,1060,40,4,1.5,.45],[890,980,45,3,1.4,.35]],
 [[1490,1385,55,4,2,.6]]];
(function(){
  gRows.forEach((r,ri)=>{
    const redG=panel(869,r[0],397,r[1],'h-lamp1-'+r[2]);
    hRedDots[ri].forEach(d=>{const p=mapH(d[0],d[1]);dot(redG,p[0],p[1],d[2],'#f01010');});
    if(ri===3){
      fibre(redG,pathOf(mapH,[[265,1385],[345,1395],[400,1405],[440,1390]]),'#e80000',4.5,.9);
      const b=mapH(418,1412);
      const e=mk(redG,'ellipse',{cx:b[0],cy:b[1],rx:14,ry:20,fill:'#ee0808'});
      
      
    }
    const mg=panel(1276,r[0],396,r[1],'h-merge-'+r[2],ri>=2?'#001006':'#000606');
    hMergeNuclei[ri].forEach((n,i)=>{const p=mapH(n[0],n[1]);nucleus(mg,p[0],p[1],n[2],n[3],(i*29%50)-10,'#0c28d8',.85,true);});
    hMergeStars[ri].forEach((c,i)=>{const p=mapH(c[0],c[1]);star(mg,p[0],p[1],c[2],c[3],'#00b030',c[4],c[5],i*2.1+.6);});
    if(ri===0){
      fibre(mg,pathOf(mapH,[[1280,330],[1390,245],[1420,160],[1510,145]]),'#00b838',2.6,.85);
      fibre(mg,pathOf(mapH,[[1415,280],[1420,400]]),'#00a030',2.2,.75);
      fibre(mg,pathOf(mapH,[[1360,210],[1390,190],[1425,185]]),'#00b030',2.2,.75);
    }
    if(ri===2){
      const a=mapH(1080,1005);nucleus(mg,a[0],a[1],36,13,-12,'#18d040',1,false);
      const b=mapH(1360,895);nucleus(mg,b[0],b[1],30,14,10,'#10b050',.85,false);
      [[825,905],[888,962],[1105,975],[1050,1020],[880,1033],[952,1052],[1068,1076],[1220,1103],[1237,1080],[1098,1138]].forEach(d=>{const p=mapH(d[0],d[1]);dot(mg,p[0],p[1],1.6,'#ff4010');});
    }
    if(ri===3){
      fibre(mg,pathOf(mapH,[[880,1360],[1000,1380],[1100,1390],[1180,1400],[1230,1480],[1270,1530]]),'#00a838',2.6,.8);
      fibre(mg,pathOf(mapH,[[850,1448],[960,1440],[1060,1410],[1160,1425]]),'#00b838',4,.9);
      fibre(mg,pathOf(mapH,[[1340,1300],[1480,1385],[1535,1400]]),'#009830',3,.65);
      const g1=mapH(865,1448);nucleus(mg,g1[0],g1[1],15,6,0,'#30e820',1,false);
      const g2=mapH(890,1465);nucleus(mg,g2[0],g2[1],16,8,0,'#0080c8',.8,true);
      const y1=mapH(1180,1395);nucleus(mg,y1[0],y1[1],8,9,-30,'#ffb000',1,false);
      [[1040,1385],[1090,1385],[1115,1395],[1140,1400],[1165,1420],[1190,1440],[1220,1440],[1220,1388]].forEach(d=>{const p=mapH(d[0],d[1]);dot(mg,p[0],p[1],2,'#ff7a00');});
    }
  });
})();
</script>
</body>
</html>
